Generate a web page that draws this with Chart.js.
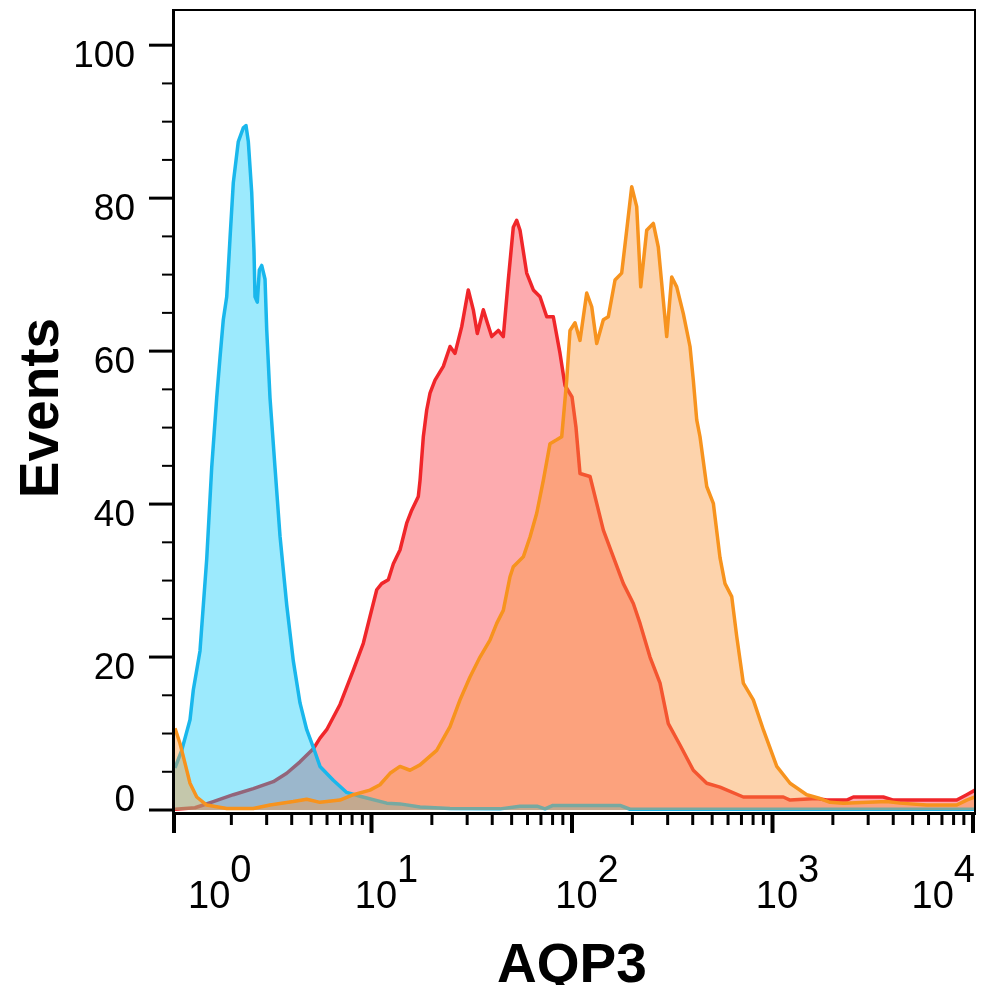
<!DOCTYPE html>
<html>
<head>
<meta charset="utf-8">
<title>AQP3 histogram</title>
<script src="https://cdn.jsdelivr.net/npm/chart.js@4.4.1/dist/chart.umd.min.js"></script>
<style>
  html, body { margin: 0; padding: 0; background: #fff; }
  #wrap { width: 984px; height: 985px; }
</style>
</head>
<body>
<div id="wrap"><canvas id="histo" width="984" height="985"></canvas></div>
<script>
// Flow cytometry overlay: AQP3 staining, three populations on a log axis.
// Values (x = fluorescence, y = events).

// cyan population (low / control)
const blueX = [1.047, 1.131, 1.244, 1.292, 1.395, 1.507, 1.596, 1.690, 1.756, 1.823,
  1.896, 1.970, 2.045, 2.166, 2.294, 2.366, 2.430, 2.526, 2.594, 2.624,
  2.694, 2.757, 2.834, 2.944, 3.002, 3.117, 3.301, 3.497, 3.777, 4.073,
  4.399, 4.752, 5.126, 5.535, 6.449, 7.519, 8.763, 11.91, 13.87, 17.46,
  24.64, 43.75, 55.05, 66.91, 73.36, 80.39, 173.6, 194.7, 434.9, 1371,
  4324, 10230];
const blueY = [5.5, 7.8, 11.8, 15.7, 20.8, 32.8, 44.8, 53.9, 59.2, 64.1,
  67.1, 74.8, 82.0, 87.4, 89.2, 89.5, 87.4, 80.8, 73.0, 67.1,
  66.4, 70.6, 71.2, 69.4, 62.8, 53.9, 44.8, 35.8, 26.8, 19.5,
  14.0, 10.5, 8.2, 5.7, 3.9, 2.3, 1.8, 0.9, 0.8, 0.4,
  0.2, 0.15, 0.5, 0.5, 0.15, 0.6, 0.6, 0.1, 0.1, 0.1,
  0.1, 0.1];

// red population
const redX = [1.047, 1.317, 1.449, 1.625, 2.045, 2.573, 3.237, 3.776, 4.399, 5.126,
  5.535, 5.977, 6.966, 8.117, 9.101, 9.829, 10.62, 11.24, 12.13, 12.85,
  13.87, 14.98, 15.87, 17.12, 17.46, 18.13, 18.85, 19.58, 20.74, 22.81,
  24.64, 26.09, 28.18, 30.39, 32.19, 33.70, 36.11, 37.81, 39.77, 42.90,
  45.43, 48.11, 50.95, 52.98, 55.05, 59.43, 64.12, 69.27, 74.80, 80.67,
  87.14, 92.28, 100.0, 104.7, 109.6, 123.0, 132.8, 143.3, 160.7, 180.3,
  202.2, 218.4, 244.9, 274.8, 302.2, 345.6, 402.7, 469.8, 547.1, 715.1,
  1132, 1223, 1661, 1864, 2345, 2530, 3569, 4004, 8292, 9302, 10230];
const redY = [0.1, 0.3, 0.65, 1.1, 2.0, 2.8, 3.7, 4.8, 6.3, 8.0,
  9.4, 10.5, 13.8, 18.3, 21.8, 25.3, 28.8, 29.6, 30.1, 32.2,
  34.0, 37.5, 39.2, 41.0, 43.1, 48.8, 52.3, 54.5, 56.2, 58.0,
  60.6, 59.7, 63.2, 68.0, 65.4, 62.3, 65.4, 63.7, 61.9, 62.7,
  61.9, 69.3, 76.2, 77.1, 75.8, 70.2, 68.0, 67.1, 64.5, 64.5,
  59.7, 55.5, 54.0, 50.0, 44.0, 43.6, 40.1, 36.6, 33.1, 29.6,
  27.0, 24.4, 20.0, 16.6, 11.3, 8.5, 5.2, 3.5, 3.0, 1.7,
  1.7, 1.3, 1.5, 1.3, 1.3, 1.7, 1.7, 1.3, 1.3, 2.0, 2.6];

// orange population (brightest)
const orangeX = [1.047, 1.109, 1.175, 1.244, 1.344, 1.507, 1.896, 2.573, 3.117, 4.073,
  4.752, 5.535, 6.966, 8.117, 9.829, 11.02, 12.37, 13.87, 15.56, 17.46,
  21.14, 24.64, 27.63, 30.99, 34.77, 38.99, 42.12, 45.43, 49.06, 50.95,
  57.17, 61.73, 66.68, 71.94, 77.66, 83.90, 88.86, 94.10, 97.73, 103.5,
  109.6, 118.4, 125.4, 132.8, 143.3, 151.7, 163.9, 176.9, 187.4, 198.5,
  210.2, 220.2, 235.8, 254.4, 269.4, 296.7, 314.3, 332.8, 359.0, 387.7,
  402.7, 418.8, 434.9, 469.8, 506.8, 547.1, 579.5, 626.0, 662.9, 715.1,
  802.0, 899.8, 1050, 1223, 1481, 1726, 1936, 2255, 3712, 4324,
  5875, 8292, 9302, 10230];
const orangeY = [10.7, 8.7, 6.1, 3.5, 1.7, 0.65, 0.2, 0.2, 0.65, 1.1,
  1.4, 1.0, 1.3, 2.0, 2.6, 3.3, 4.8, 5.7, 5.2, 5.9,
  7.8, 10.9, 14.4, 17.4, 20.0, 22.2, 24.4, 26.1, 30.5, 31.8,
  33.1, 35.7, 38.8, 43.1, 47.9, 48.4, 48.8, 56.2, 62.7, 63.7,
  61.4, 67.6, 65.8, 61.0, 64.1, 64.5, 69.3, 70.2, 75.8, 81.5,
  78.9, 68.4, 75.8, 76.7, 73.6, 61.9, 69.7, 68.4, 64.9, 60.6,
  56.2, 51.0, 48.8, 42.3, 40.1, 33.0, 29.6, 27.9, 22.7, 16.6,
  14.4, 10.5, 5.7, 3.5, 2.0, 1.5, 1.0, 0.9, 1.1, 0.9,
  0.65, 0.65, 1.3, 1.7];

// axes
const xTickValues = [1, 10, 100, 1000, 10000];
const xTickExps = ['0', '1', '2', '3', '4'];
const yTickValues = [0, 20, 40, 60, 80, 100];
const yMinorStep = 5;

const FONT = '"Liberation Sans", Arial, Helvetica, sans-serif';

function toPoints(xs, ys) {
  return xs.map((x, i) => ({ x: x, y: ys[i] }));
}

// Draws the box, the long/short ticks, "10^n" labels and the axis titles
// using the chart's own scales for positions.
const flowAxes = {
  id: 'flowAxes',
  afterDraw(chart) {
    const ctx = chart.ctx;
    const area = chart.chartArea;
    const xs = chart.scales.x;
    const ys = chart.scales.y;
    ctx.save();
    ctx.strokeStyle = '#000';
    ctx.fillStyle = '#000';

    // thin frame top + right
    ctx.lineWidth = 2;
    ctx.beginPath();
    ctx.moveTo(area.left, area.top);
    ctx.lineTo(area.right, area.top);
    ctx.lineTo(area.right, area.bottom);
    ctx.stroke();

    // heavier axis lines
    ctx.lineWidth = 3;
    ctx.beginPath();
    ctx.moveTo(area.left - 1.5, area.top - 1);
    ctx.lineTo(area.left - 1.5, area.bottom + 1.5);
    ctx.lineTo(area.right + 1, area.bottom + 1.5);
    ctx.stroke();

    // y ticks
    for (let v = 0; v <= 100; v += yMinorStep) {
      const py = ys.getPixelForValue(v);
      const major = yTickValues.includes(v);
      ctx.lineWidth = major ? 3 : 2;
      ctx.beginPath();
      ctx.moveTo(area.left - (major ? 26 : 13), py);
      ctx.lineTo(area.left - 1, py);
      ctx.stroke();
    }

    // y labels
    ctx.font = '37px ' + FONT;
    ctx.textAlign = 'right';
    ctx.textBaseline = 'alphabetic';
    yTickValues.forEach(v => {
      const base = Math.min(ys.getPixelForValue(v) + 21.5, area.bottom - 1.5);
      ctx.fillText(String(v), area.left - 40, base);
    });

    // x ticks
    xTickValues.forEach((v, k) => {
      let px = xs.getPixelForValue(v);
      px = Math.min(Math.max(px, area.left - 1), area.right - 1);
      ctx.lineWidth = 4;
      ctx.beginPath();
      ctx.moveTo(px, area.bottom);
      ctx.lineTo(px, area.bottom + 21);
      ctx.stroke();
      if (k === xTickValues.length - 1) return;
      for (let m = 2; m <= 9; m++) {
        const mp = xs.getPixelForValue(v * m);
        if (mp < area.left || mp > area.right) continue;
        ctx.lineWidth = 3;
        ctx.beginPath();
        ctx.moveTo(mp, area.bottom + 1);
        ctx.lineTo(mp, area.bottom + 13);
        ctx.stroke();
      }
    });

    // x labels: "10" with a raised exponent of the same size, kept inside the axis
    ctx.font = '38px ' + FONT;
    ctx.textAlign = 'left';
    xTickValues.forEach((v, k) => {
      const wBase = ctx.measureText('10').width;
      const wExp = ctx.measureText(xTickExps[k]).width;
      const w = wBase + wExp;
      let left = xs.getPixelForValue(v) + 15 - w / 2;
      left = Math.max(left, area.left + 13);
      if (left + w > area.right) left = area.right - w;
      ctx.fillText('10', left, 908);
      ctx.fillText(xTickExps[k], left + wBase, 882);
    });

    // axis titles
    ctx.font = 'bold 55px ' + FONT;
    ctx.textAlign = 'center';
    ctx.fillText('AQP3', 572, 982);
    ctx.save();
    ctx.translate(58, 408);
    ctx.rotate(-Math.PI / 2);
    ctx.fillText('Events', 0, 0);
    ctx.restore();

    ctx.restore();
  }
};

new Chart(document.getElementById('histo').getContext('2d'), {
  type: 'line',
  data: {
    datasets: [
      {
        label: 'orange',
        data: toPoints(orangeX, orangeY),
        borderColor: '#F7931E',
        backgroundColor: 'rgba(250,150,57,0.42)',
        fill: 'origin',
        order: 0
      },
      {
        label: 'cyan',
        data: toPoints(blueX, blueY),
        borderColor: '#19B7EC',
        backgroundColor: 'rgba(0,200,250,0.39)',
        fill: 'origin',
        order: 1
      },
      {
        label: 'red',
        data: toPoints(redX, redY),
        borderColor: '#F0262A',
        backgroundColor: 'rgba(250,45,55,0.4)',
        fill: 'origin',
        order: 2
      }
    ]
  },
  options: {
    responsive: false,
    animation: false,
    devicePixelRatio: 1,
    layout: { padding: { left: 175, right: 9, top: 10, bottom: 173 } },
    elements: {
      point: { radius: 0 },
      line: { tension: 0, borderWidth: 3.5, borderJoinStyle: 'round' }
    },
    scales: {
      x: { type: 'logarithmic', min: 1.047, max: 10230, display: false },
      y: { type: 'linear', min: -0.26, max: 104.6, display: false }
    },
    plugins: {
      legend: { display: false },
      tooltip: { enabled: false }
    }
  },
  plugins: [flowAxes]
});
</script>
</body>
</html>
